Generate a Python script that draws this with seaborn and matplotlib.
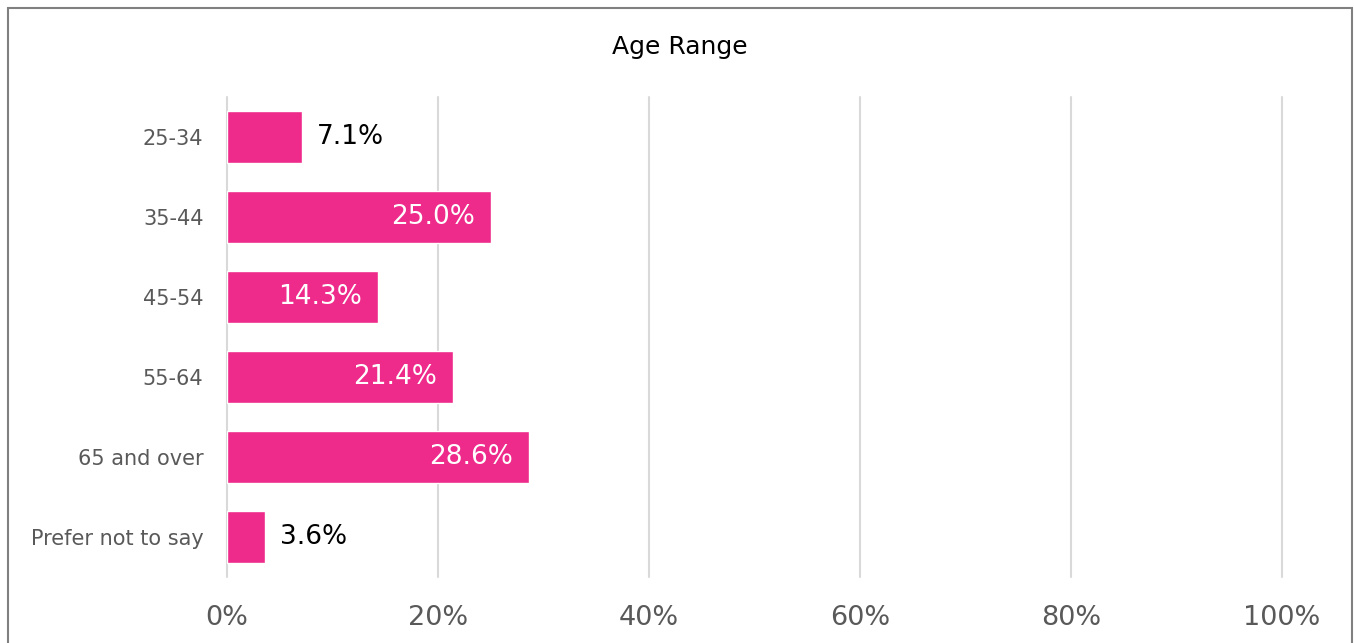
import matplotlib
matplotlib.use("Agg")
import matplotlib.pyplot as plt
import seaborn as sns
import pandas as pd
from matplotlib.patches import Rectangle

categories = ["25-34", "35-44", "45-54", "55-64", "65 and over", "Prefer not to say"]
values = [7.1, 25.0, 14.3, 21.4, 28.6, 3.6]
xticks = [0, 20, 40, 60, 80, 100]
xtick_labels = ["0%", "20%", "40%", "60%", "80%", "100%"]
title = "Age Range"

sns.set_theme(style="white")
plt.rcParams['font.family'] = ['DejaVu Sans']

df = pd.DataFrame({"cat": categories, "val": values})

fig = plt.figure(figsize=(13.54, 6.43), dpi=100)
ax = fig.add_axes([227/1354, 1-577/643, 1055/1354, 480/643])

sns.barplot(data=df, x="val", y="cat", orient="h", color="#EE2A8A",
            saturation=1, width=0.66, ax=ax)

ax.set_xlim(0, 100)
ax.set_ylim(5.5, -0.5)
ax.set_xticks(xticks)
ax.set_xticklabels(xtick_labels)
ax.set_xlabel("")
ax.set_ylabel("")
for s in ax.spines.values():
    s.set_visible(False)
ax.xaxis.grid(True, color="#D9D9D9", linewidth=1.5)
for gl in ax.get_xgridlines():
    gl.set_clip_on(False)
ax.yaxis.grid(False)
ax.set_axisbelow(True)
ax.tick_params(axis="x", length=0, pad=20, labelsize=19.5, labelcolor="#595959")
ax.tick_params(axis="y", length=0, pad=17, labelsize=15, labelcolor="#595959")

for i, v in enumerate(values):
    label = f"{v:.1f}%"
    if v < 10:
        ax.text(v + 1.4, i, label, va="center", ha="left", fontsize=19, color="black")
    else:
        ax.text(v - 1.5, i, label, va="center", ha="right", fontsize=19, color="white")

fig.text(0.502, 1-47/643, title, ha="center", va="center", fontsize=18, color="black")

fig.patches.append(Rectangle((8/1354, -0.01), 1344/1354, 1-8/643+0.01,
                             transform=fig.transFigure, fill=False,
                             edgecolor="#808080", linewidth=1.5))

fig.savefig("out.png", dpi=100)
